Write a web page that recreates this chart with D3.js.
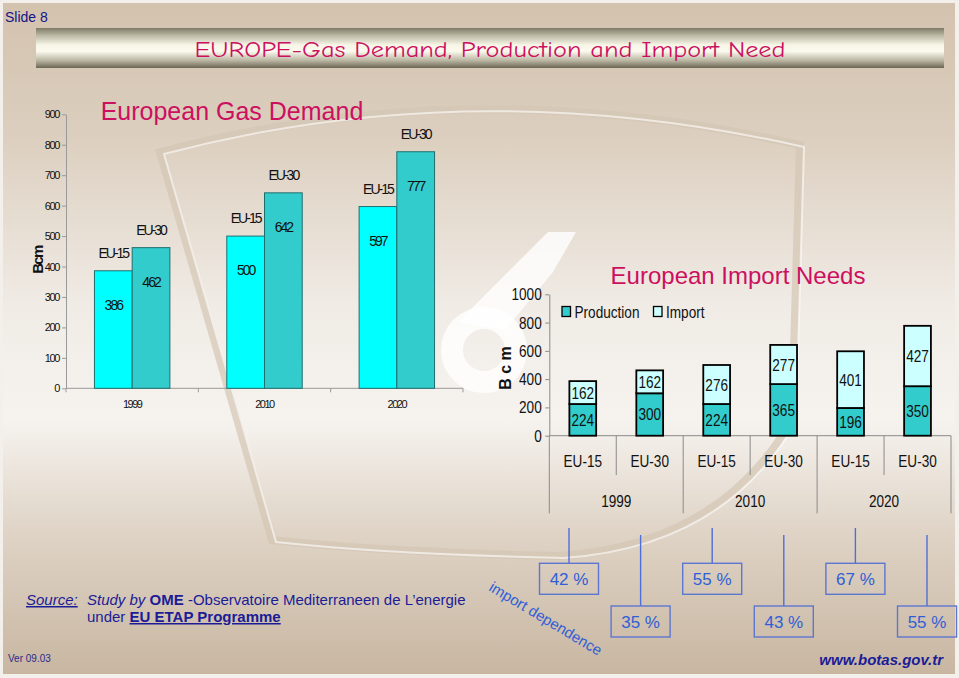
<!DOCTYPE html>
<html><head><meta charset="utf-8">
<script src="https://cdn.jsdelivr.net/npm/d3@7"></script>
<style>
html,body{margin:0;padding:0;background:#f3efea;}
svg{display:block;}
</style></head><body>
<svg id="c" width="959" height="678"></svg>
<script>
// ---------- data ----------
const years = ["1999", "2010", "2020"];
const regions = ["EU-15", "EU-30"];
const demandEU15 = [386, 500, 597];
const demandEU30 = [462, 642, 777];
const demandTicks = [0, 100, 200, 300, 400, 500, 600, 700, 800, 900];

const importCats = ["EU-15", "EU-30", "EU-15", "EU-30", "EU-15", "EU-30"];
const production = [224, 300, 224, 365, 196, 350];
const imports = [162, 162, 276, 277, 401, 427];
const importTicks = [0, 200, 400, 600, 800, 1000];
const dependence = ["42 %", "35 %", "55 %", "43 %", "67 %", "55 %"];

// ---------- setup ----------
const svg = d3.select("#c");
const defs = svg.append("defs");

const bg = defs.append("linearGradient").attr("id", "bg").attr("x1", 0).attr("y1", 0).attr("x2", 0).attr("y2", 1);
[[0, "#d3c2ae"], [0.2, "#dccfbf"], [0.45, "#f0ebe5"], [0.62, "#f6f3ef"], [0.78, "#e0d5c8"], [1, "#c8b6a1"]]
  .forEach(([o, c]) => bg.append("stop").attr("offset", o).attr("stop-color", c));

const hb = defs.append("linearGradient").attr("id", "hb").attr("x1", 0).attr("y1", 0).attr("x2", 0).attr("y2", 1);
[[0, "#7d7966"], [0.18, "#b9b6a2"], [0.42, "#f6f5e6"], [0.58, "#fbfaee"], [0.82, "#b7b39f"], [1, "#6a6654"]]
  .forEach(([o, c]) => hb.append("stop").attr("offset", o).attr("stop-color", c));

svg.append("rect").attr("x", 3).attr("y", 3).attr("width", 952).attr("height", 671).attr("fill", "url(#bg)");

// decorative watermark (shield + ring)
const wm = svg.append("g").attr("fill", "none");
const shield = "M160,152 Q470,70 800,145 L792,420 Q720,545 560,556 Q380,552 272,540 Z";
wm.append("path").attr("d", shield).attr("stroke", "#d4c6b4").attr("stroke-width", 8).attr("opacity", 0.7);
wm.append("path").attr("d", shield).attr("stroke", "#ffffff").attr("stroke-width", 2).attr("opacity", 0.6)
  .attr("transform", "translate(4,2)");
wm.append("circle").attr("cx", 484).attr("cy", 350).attr("r", 32).attr("stroke", "#ffffff").attr("stroke-width", 22).attr("opacity", 0.8);
wm.append("path").attr("d", "M458,322 L548,232 L576,232 L553,272 L505,330 Z").attr("fill", "#ffffff").attr("opacity", 0.8);

// ---------- header ----------
svg.append("text").attr("x", 5).attr("y", 22).text("Slide 8")
  .attr("font-family", "Liberation Sans, Arial, sans-serif").attr("font-size", 14).attr("fill", "#14148a");
svg.append("rect").attr("x", 36).attr("y", 28).attr("width", 908).attr("height", 40).attr("fill", "url(#hb)");
svg.append("text").attr("x", 490).attr("y", 57).attr("text-anchor", "middle")
  .attr("font-family", "Comic Sans MS, Comic Neue, DejaVu Sans Condensed, sans-serif").attr("font-size", 23)
  .attr("textLength", 591).attr("lengthAdjust", "spacingAndGlyphs")
  .attr("fill", "#cc1060").text("EUROPE-Gas Demand, Production and Import Need");

// ---------- left chart: European Gas Demand ----------
const L = { x0: 66, x1: 463, y0: 388.3, y1: 114.3 };
const xL = d3.scaleBand().domain(years).range([L.x0, L.x1]).paddingInner(0.43).paddingOuter(0.215);
const xLs = d3.scaleBand().domain(regions).range([0, xL.bandwidth()]);
const yL = d3.scaleLinear().domain([0, 900]).range([L.y0, L.y1]);
const demandRows = years.map((y, i) => ({ year: y, vals: [{ r: "EU-15", v: demandEU15[i] }, { r: "EU-30", v: demandEU30[i] }] }));
const leftColors = { "EU-15": "#00ffff", "EU-30": "#33cccc" };
const LF = "Liberation Sans, Arial, sans-serif";

const gL = svg.append("g");
gL.append("text").attr("x", 232).attr("y", 120).attr("text-anchor", "middle").attr("font-family", LF)
  .attr("font-size", 25).attr("fill", "#cc1060").text("European Gas Demand");

const yAxL = gL.append("g").attr("transform", `translate(${L.x0},0)`)
  .call(d3.axisLeft(yL).tickValues(demandTicks).tickSize(4).tickSizeOuter(0).tickPadding(3));
yAxL.select(".domain").attr("stroke", "#9a9a9a");
yAxL.selectAll(".tick line").attr("stroke", "#9a9a9a");
yAxL.selectAll(".tick text").attr("font-family", LF).attr("font-size", 11).attr("letter-spacing", -1.4).attr("fill", "#111");

gL.append("text").attr("transform", "translate(43,260) rotate(-90)").attr("text-anchor", "middle")
  .attr("font-family", LF).attr("font-weight", "bold").attr("font-size", 15).attr("letter-spacing", -1.6)
  .attr("fill", "#111").text("Bcm");

gL.append("line").attr("x1", L.x0).attr("x2", L.x1).attr("y1", L.y0).attr("y2", L.y0).attr("stroke", "#9a9a9a");
d3.range(years.length + 1).forEach(i => {
  const x = L.x0 + i * xL.step();
  gL.append("line").attr("x1", x).attr("x2", x).attr("y1", L.y0).attr("y2", L.y0 + 4).attr("stroke", "#9a9a9a");
});
gL.selectAll(".yl").data(years).join("text").attr("class", "yl")
  .attr("x", d => xL(d) + xL.bandwidth() / 2).attr("y", 408).attr("text-anchor", "middle")
  .attr("font-family", LF).attr("font-size", 11).attr("letter-spacing", -1.5).attr("fill", "#111").text(d => d);

const grp = gL.selectAll(".grp").data(demandRows).join("g").attr("class", "grp")
  .attr("transform", d => `translate(${xL(d.year)},0)`);
grp.selectAll("rect").data(d => d.vals).join("rect")
  .attr("x", d => xLs(d.r)).attr("width", xLs.bandwidth())
  .attr("y", d => yL(d.v)).attr("height", d => yL(0) - yL(d.v))
  .attr("fill", d => leftColors[d.r]).attr("stroke", "#1f6e6e").attr("stroke-width", 1);
grp.selectAll(".rl").data(d => d.vals).join("text").attr("class", "rl")
  .attr("x", d => xLs(d.r) + xLs.bandwidth() / 2).attr("y", d => yL(d.v) - 13).attr("text-anchor", "middle")
  .attr("font-family", LF).attr("font-size", 14).attr("letter-spacing", -2).attr("fill", "#111").text(d => d.r);
grp.selectAll(".vl").data(d => d.vals).join("text").attr("class", "vl")
  .attr("x", d => xLs(d.r) + xLs.bandwidth() / 2).attr("y", d => yL(d.v) + 39).attr("text-anchor", "middle")
  .attr("font-family", LF).attr("font-size", 14).attr("letter-spacing", -2).attr("fill", "#111").text(d => d.v);

// ---------- right chart: European Import Needs ----------
const NF = "Liberation Sans Narrow, Arial Narrow, Liberation Sans, sans-serif";
const SX = 0.8; // condensed look
const R = { x0: 549.3, x1: 951, y0: 435.7, y1: 294.3 };
const idx = d3.range(importCats.length);
const xR = d3.scaleBand().domain(idx).range([R.x0, R.x1]).paddingInner(0.6).paddingOuter(0.3);
const yR = d3.scaleLinear().domain([0, 1000]).range([R.y0, R.y1]);
const rows = idx.map(i => ({ i, Production: production[i], Import: imports[i] }));
const keys = ["Production", "Import"];
const rColors = { Production: "#33cccc", Import: "#ccffff" };
const stacked = d3.stack().keys(keys)(rows);
const nt = (x, y) => `translate(${x},${y}) scale(${SX},1)`;

const gR = svg.append("g");
gR.append("text").attr("x", 738).attr("y", 284).attr("text-anchor", "middle").attr("font-family", LF)
  .attr("font-size", 24).attr("fill", "#cc1060").text("European Import Needs");

const yAxR = gR.append("g").attr("transform", `translate(${R.x0},0)`)
  .call(d3.axisLeft(yR).tickValues(importTicks).tickFormat(d3.format("d")).tickSize(4).tickSizeOuter(0).tickPadding(5.5));
yAxR.select(".domain").attr("stroke", "#8a8a8a");
yAxR.selectAll(".tick line").attr("stroke", "#8a8a8a");
yAxR.selectAll(".tick text").attr("font-family", NF).attr("font-size", 17).attr("fill", "#111")
  .attr("transform", `scale(${SX},1)`);

gR.append("text").attr("transform", "translate(511,368) rotate(-90)").attr("text-anchor", "middle")
  .attr("font-family", LF).attr("font-weight", "bold").attr("font-size", 16).attr("fill", "#111").text("B c m");

gR.append("line").attr("x1", R.x0).attr("x2", R.x1).attr("y1", R.y0).attr("y2", R.y0).attr("stroke", "#8a8a8a");
d3.range(importCats.length + 1).forEach(i => {
  const x = R.x0 + i * xR.step();
  gR.append("line").attr("x1", x).attr("x2", x).attr("y1", R.y0).attr("y2", i % 2 === 0 ? 513.3 : 475)
    .attr("stroke", "#8a8a8a");
});
gR.selectAll(".cl").data(idx).join("text").attr("class", "cl")
  .attr("transform", i => nt(xR(i) + xR.bandwidth() / 2, 467)).attr("text-anchor", "middle")
  .attr("font-family", NF).attr("font-size", 17).attr("fill", "#111").text(i => importCats[i]);
gR.selectAll(".yr").data(years).join("text").attr("class", "yr")
  .attr("transform", (d, k) => nt(R.x0 + (2 * k + 1) * xR.step(), 507)).attr("text-anchor", "middle")
  .attr("font-family", NF).attr("font-size", 17).attr("fill", "#111").text(d => d);

const layers = gR.selectAll(".layer").data(stacked).join("g").attr("class", "layer").attr("fill", d => rColors[d.key]);
layers.selectAll("rect").data(d => d).join("rect")
  .attr("x", d => xR(d.data.i)).attr("width", xR.bandwidth())
  .attr("y", d => yR(d[1])).attr("height", d => yR(d[0]) - yR(d[1]))
  .attr("stroke", "#000").attr("stroke-width", 1.8);
layers.selectAll("text").data(d => d).join("text")
  .attr("transform", d => nt(xR(d.data.i) + xR.bandwidth() / 2, (yR(d[0]) + yR(d[1])) / 2 + 6))
  .attr("text-anchor", "middle").attr("font-family", NF).attr("font-size", 17)
  .attr("fill", "#111").text(d => d[1] - d[0]);

// legend
const lg = gR.append("g");
keys.forEach((k, j) => {
  const lx = j === 0 ? 562 : 653.5;
  lg.append("rect").attr("x", lx).attr("y", 306.5).attr("width", 8.5).attr("height", 10)
    .attr("fill", rColors[k]).attr("stroke", "#000").attr("stroke-width", 1.3);
  lg.append("text").attr("transform", nt(lx + 12.5, 318)).attr("font-family", NF).attr("font-size", 17)
    .attr("fill", "#111").text(k);
});

// ---------- import dependence boxes ----------
const blue = "#2f5fd6";
const xD = d3.scalePoint().domain(idx).range([569, 927]);
const gD = svg.append("g");
idx.forEach(i => {
  const up = i % 2 === 0;
  const cx = xD(i);
  const by = up ? 563.3 : 606;
  gD.append("line").attr("x1", cx).attr("x2", cx).attr("y1", up ? 528 : 535).attr("y2", by)
    .attr("stroke", "#4f6fd8").attr("stroke-width", 1.4);
  gD.append("rect").attr("x", cx - 29.5).attr("y", by).attr("width", 59).attr("height", 31)
    .attr("fill", "none").attr("stroke", "#5d76d0").attr("stroke-width", 1.4);
  gD.append("text").attr("x", cx).attr("y", by + 22).attr("text-anchor", "middle")
    .attr("font-family", LF).attr("font-size", 17).attr("fill", blue).text(dependence[i]);
});
gD.append("text").attr("transform", "translate(488,590) rotate(31)").attr("font-family", LF)
  .attr("font-size", 15).attr("fill", blue).text("import dependence");

// ---------- footer ----------
const navy = "#1c1c96";
const src = svg.append("text").attr("x", 26).attr("y", 605).attr("font-family", LF).attr("font-size", 15).attr("fill", navy);
src.append("tspan").attr("font-style", "italic").attr("text-decoration", "underline").text("Source:");
src.append("tspan").attr("x", 87).attr("font-style", "italic").text("Study by ");
src.append("tspan").attr("font-weight", "bold").text("OME");
src.append("tspan").text(" -Observatoire Mediterraneen de L\u2019energie");
const src2 = svg.append("text").attr("x", 87).attr("y", 622).attr("font-family", LF).attr("font-size", 15).attr("fill", navy);
src2.append("tspan").text("under ");
src2.append("tspan").attr("font-weight", "bold").attr("text-decoration", "underline").text("EU ETAP Programme");

svg.append("text").attr("x", 8).attr("y", 662).attr("font-family", LF).attr("font-size", 10).attr("fill", "#2a2a8a").text("Ver 09.03");
svg.append("text").attr("x", 943).attr("y", 665).attr("text-anchor", "end").attr("font-family", LF)
  .attr("font-size", 15).attr("font-weight", "bold").attr("font-style", "italic").attr("fill", navy).text("www.botas.gov.tr");
</script>
</body></html>
